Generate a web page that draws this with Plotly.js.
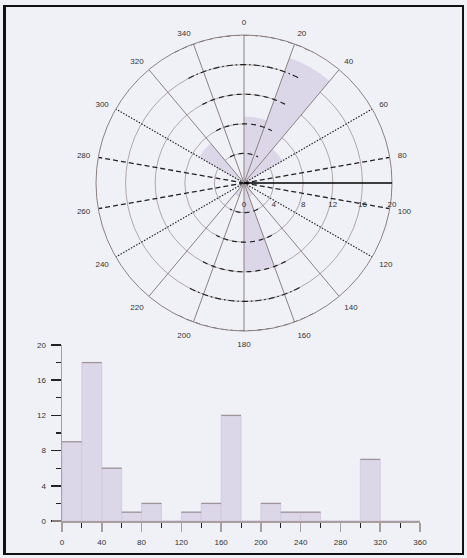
<!DOCTYPE html>
<html>
<head>
<meta charset="utf-8">
<script src="https://cdn.plot.ly/plotly-3.0.1.min.js"></script>
<style>
  html, body { margin: 0; padding: 0; background: #f0f1f7; }
  #wrap { position: relative; width: 467px; height: 558px; }
  #chart { position: absolute; left: 0; top: 0; width: 467px; height: 558px; }
  #frame { position: absolute; left: 3px; top: 5px; width: 456px; height: 546px;
           border: 2px solid #111; border-left-width: 3px; pointer-events: none; }
</style>
</head>
<body>
<div id="wrap"><div id="chart"></div><div id="frame"></div></div>
<script>
// ---- data: 20-degree direction bins and their counts ----
const binStarts = [0, 20, 40, 60, 80, 100, 120, 140, 160, 180, 200, 220, 240, 260, 280, 300, 320, 340];
const binWidth = 20;
const counts = [9, 18, 6, 1, 2, 0, 1, 2, 12, 0, 2, 1, 1, 0, 0, 7, 0, 0];
const angleTicks = [0, 20, 40, 60, 80, 100, 120, 140, 160, 180, 200, 220, 240, 260, 280, 300, 320, 340];
const radialTicks = [0, 4, 8, 12, 16, 20];
const histXTicks = [0, 40, 80, 120, 160, 200, 240, 280, 320, 360];
const histYTicks = [0, 4, 8, 12, 16, 20];

const W = 467, H = 558;
const barFill = '#dcd6e9';
const gridGray = '#b0a6a6';
const dark = '#222';
const font = {family: 'Liberation Sans, Arial, sans-serif', size: 8, color: '#333'};

const centers = binStarts.map(s => s + binWidth / 2);
const rMax = radialTicks[radialTicks.length - 1];

const traces = [];
// rose
traces.push({
  type: 'barpolar', subplot: 'polar', theta: centers, r: counts, width: binStarts.map(() => binWidth),
  marker: {color: barFill, line: {width: 0}}, hoverinfo: 'skip', showlegend: false
});
// spokes with styles depending on orientation
angleTicks.forEach(a => {
  const d = Math.abs(((a % 180) + 180) % 180 - 90); // distance from horizontal
  let line;
  if (d <= 10) line = {color: dark, width: 1.3, dash: '5px,3px'};
  else if (d <= 30) line = {color: dark, width: 1.2, dash: '1.5px,1.5px'};
  else line = {color: '#8c8080', width: 1};
  traces.push({type: 'scatterpolar', subplot: 'polar', mode: 'lines', r: [0, rMax], theta: [a, a],
    line: line, hoverinfo: 'skip', showlegend: false, cliponaxis: false});
});
// dark dashed arcs of circles near top and bottom
radialTicks.slice(1).forEach(rv => {
  [[-28, 28], [152, 208]].forEach(([a0, a1]) => {
    const th = [], rr = [];
    for (let t = a0; t <= a1; t += 1) { th.push(t); rr.push(rv); }
    traces.push({type: 'scatterpolar', subplot: 'polar', mode: 'lines', r: rr, theta: th,
      line: {color: dark, width: 1.2, dash: rv === 16 ? '6px,3px,1.5px,3px' : '5px,4px'},
      hoverinfo: 'skip', showlegend: false});
  });
});

// histogram bars
traces.push({
  type: 'bar', xaxis: 'x', yaxis: 'y', x: centers, y: counts, width: binStarts.map(() => binWidth),
  marker: {color: barFill, line: {color: '#cfc7da', width: 0.8}}, hoverinfo: 'skip', showlegend: false
});
// darker top edges of the bars
const topX = [], topY = [];
binStarts.forEach((s, i) => { if (counts[i] > 0) { topX.push(s, s + binWidth, null); topY.push(counts[i], counts[i], null); } });
traces.push({type: 'scatter', xaxis: 'x', yaxis: 'y', mode: 'lines', x: topX, y: topY,
  line: {color: '#a0959a', width: 1.3}, hoverinfo: 'skip', showlegend: false});

const layout = {
  width: W, height: H,
  margin: {l: 0, r: 0, t: 0, b: 0},
  paper_bgcolor: '#f0f1f7', plot_bgcolor: '#f0f1f7',
  font: font, showlegend: false,
  polar: {
    domain: {x: [96 / W, 392 / W], y: [1 - 331 / H, 1 - 35 / H]},
    bgcolor: '#f0f1f7',
    angularaxis: {
      rotation: 90, direction: 'clockwise', tickmode: 'array', tickvals: angleTicks,
      ticktext: angleTicks.map(String), showgrid: false,
      showline: true, linecolor: '#8c8080', linewidth: 1,
      ticks: 'outside', ticklen: 6, tickcolor: 'rgba(0,0,0,0)', tickfont: font
    },
    radialaxis: {
      range: [0, rMax], tickmode: 'array', tickvals: radialTicks, ticktext: radialTicks.map(String),
      angle: 0, side: 'clockwise', showline: true, linecolor: '#000', linewidth: 1.5,
      ticks: 'outside', ticklen: 14, tickcolor: 'rgba(0,0,0,0)',
      showgrid: true, gridcolor: gridGray, gridwidth: 1, tickfont: font
    }
  },
  xaxis: {
    domain: [62 / W, 420 / W], anchor: 'y', range: [0, 360],
    tickmode: 'array', tickvals: histXTicks, ticktext: histXTicks.map(String),
    ticks: 'outside', ticklen: 9, tickcolor: '#a89e9e', tickwidth: 1.5, ticklabelstandoff: 4,
    minor: {dtick: 20, tick0: 0, ticks: 'outside', ticklen: 5, tickcolor: '#222', tickwidth: 1},
    showline: true, linecolor: '#a89e9e', linewidth: 1.5,
    showgrid: false, zeroline: false, tickfont: font, fixedrange: true
  },
  yaxis: {
    domain: [1 - 521 / H, 1 - 345 / H], anchor: 'x', range: [0, 20],
    tickmode: 'array', tickvals: histYTicks, ticktext: histYTicks.map(String),
    ticks: 'outside', ticklen: 10, tickcolor: '#222', tickwidth: 1.5, ticklabelstandoff: 3,
    minor: {dtick: 2, tick0: 0, ticks: 'outside', ticklen: 5, tickcolor: '#222', tickwidth: 1.2},
    showline: true, linecolor: '#a89e9e', linewidth: 1.5,
    showgrid: false, zeroline: false, tickfont: font, fixedrange: true
  },
  shapes: [
    {type: 'line', xref: 'paper', yref: 'paper', x0: 52 / W, x1: 62 / W, y0: 1 - 521 / H, y1: 1 - 521 / H,
     line: {color: '#a89e9e', width: 1.5}}
  ]
};

Plotly.newPlot('chart', traces, layout, {staticPlot: true, displayModeBar: false});
</script>
</body>
</html>
